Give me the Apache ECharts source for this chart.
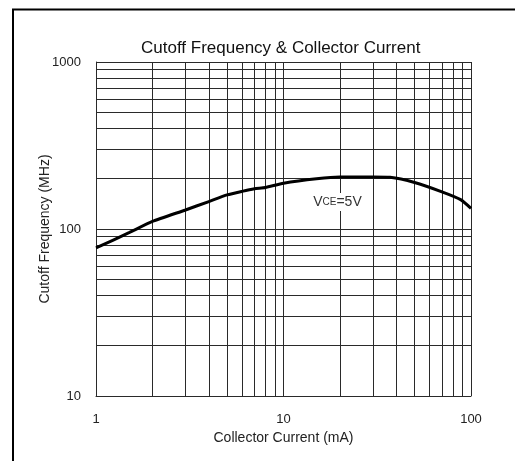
<!DOCTYPE html>
<html>
<head>
<meta charset="utf-8">
<script src="https://cdn.jsdelivr.net/npm/echarts@6/dist/echarts.min.js"></script>
<style>
  html, body { margin: 0; padding: 0; background: #fff; }
  #chart { width: 515px; height: 461px; }
</style>
</head>
<body>
<div id="chart"></div>
<script>
  // collector current (mA) vs cutoff frequency (MHz), VCE = 5V
  var currentMA = [1, 1.5, 2, 3, 4, 5, 6, 7, 8, 10, 15, 20, 30, 37, 50, 70, 88, 100];
  var cutoffMHz = [77, 95, 111, 130, 146, 160, 168, 174, 177, 188, 200, 205, 205, 204, 190, 167, 150, 133];

  // minor log grid lines
  var xMinor = [2, 3, 4, 5, 6, 7, 8, 9, 20, 30, 40, 50, 60, 70, 80, 90];
  var yMinor = [20, 30, 40, 50, 60, 70, 80, 90, 200, 300, 400, 500, 600, 700, 800, 900];

  var gridColor = '#2a2a2a';
  var textColor = '#222';
  var fontFam = '"Liberation Sans", Arial, sans-serif';

  var myChart = echarts.init(document.getElementById('chart'));

  var minorLines = [];
  xMinor.forEach(function (v) { minorLines.push({ xAxis: v }); });
  yMinor.forEach(function (v) { minorLines.push({ yAxis: v }); });

  var option = {
    backgroundColor: '#fff',
    animation: false,
    textStyle: { fontFamily: fontFam },
    title: {
      text: 'Cutoff Frequency & Collector Current',
      left: 136,
      top: 35,
      textStyle: { fontSize: 17, fontWeight: 'normal', color: '#111', fontFamily: fontFam }
    },
    graphic: [
      {
        type: 'rect',
        shape: { x: 13, y: 9.5, width: 700, height: 700 },
        style: { fill: 'none', stroke: '#000', lineWidth: 2 },
        silent: true
      }
    ],
    grid: { left: 96, right: 44, top: 62, bottom: 65 },
    xAxis: {
      type: 'log',
      logBase: 10,
      min: 1,
      max: 100,
      name: 'Collector Current (mA)',
      nameLocation: 'middle',
      nameGap: 34,
      nameTextStyle: { fontSize: 14, color: textColor },
      axisLine: { show: true, lineStyle: { color: gridColor, width: 1 } },
      axisTick: { show: false },
      axisLabel: { margin: 17, fontSize: 13, color: textColor, formatter: function (v) { return String(v); } },
      splitLine: { show: true, lineStyle: { color: gridColor, width: 1 } }
    },
    yAxis: {
      type: 'log',
      logBase: 10,
      min: 10,
      max: 1000,
      name: 'Cutoff Frequency (MHz)',
      nameLocation: 'middle',
      nameGap: 44,
      nameMoveOverlap: false,
      nameTextStyle: { fontSize: 14, color: textColor },
      axisLine: { show: true, lineStyle: { color: gridColor, width: 1 } },
      axisTick: { show: false },
      axisLabel: { margin: 15, fontSize: 13, color: textColor, formatter: function (v) { return String(v); } },
      splitLine: { show: true, lineStyle: { color: gridColor, width: 1 } }
    },
    series: [
      {
        name: 'VCE=5V',
        type: 'line',
        data: currentMA.map(function (x, i) { return [x, cutoffMHz[i]]; }),
        smooth: 0.2,
        symbol: 'none',
        lineStyle: { color: '#000', width: 3 },
        z: 5,
        markLine: {
          silent: true,
          symbol: 'none',
          label: { show: false },
          lineStyle: { color: gridColor, width: 1, type: 'solid' },
          data: minorLines,
          z: 1
        },
        markPoint: {
          symbol: 'circle',
          symbolSize: 0,
          label: {
            show: true,
            position: 'inside',
            formatter: '{a|V}{b|CE}{a|=5V}',
            backgroundColor: '#fff',
            padding: [2, 3],
            rich: {
              a: { fontSize: 14, color: '#333', fontFamily: fontFam },
              b: { fontSize: 10, color: '#333', fontFamily: fontFam }
            }
          },
          data: [{ coord: [19.4, 145] }]
        }
      }
    ]
  };

  myChart.setOption(option);
</script>
</body>
</html>
